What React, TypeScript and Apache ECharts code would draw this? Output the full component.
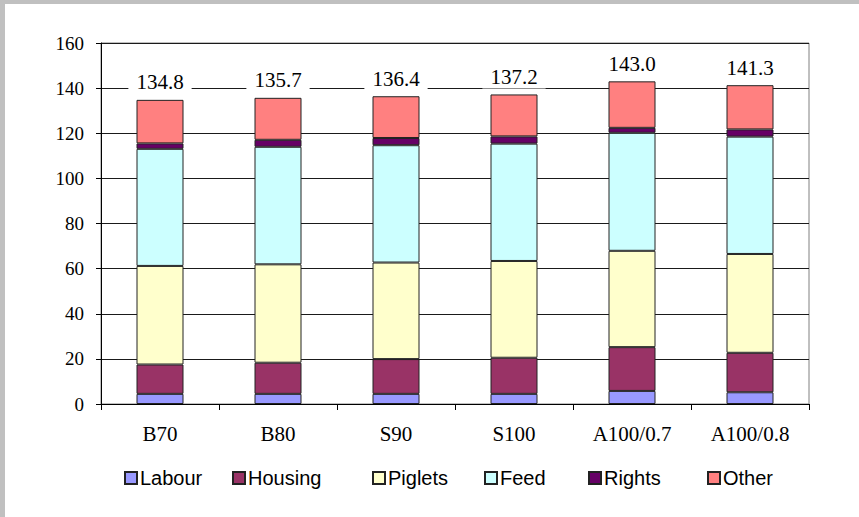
import React, { useEffect, useRef } from "react";
import * as echarts from "echarts";

const categories = ["B70", "B80", "S90", "S100", "A100/0.7", "A100/0.8"];
const labour = [4.5, 4.5, 4.5, 4.5, 5.8, 5.2];
const housing = [13.0, 13.8, 15.4, 16.0, 19.4, 17.5];
const piglets = [43.7, 43.6, 42.8, 42.9, 42.7, 43.8];
const feed = [51.9, 52.1, 52.0, 52.0, 52.3, 52.0];
const rights = [2.4, 3.1, 3.2, 3.2, 2.2, 3.2];
const other = [19.3, 18.6, 18.5, 18.6, 20.6, 19.6];
const totals = ["134.8", "135.7", "136.4", "137.2", "143.0", "141.3"];
const yTicks = [0, 20, 40, 60, 80, 100, 120, 140, 160];

const seriesNames = ["Labour", "Housing", "Piglets", "Feed", "Rights", "Other"];
const seriesData = [labour, housing, piglets, feed, rights, other];
const colors = ["#9999FF", "#993366", "#FFFFCC", "#CCFFFF", "#660066", "#FF8080"];
const legendLefts = [124, 232, 372, 484, 588, 707];

export default function App() {
  const ref = useRef<HTMLDivElement>(null);
  useEffect(() => {
    if (!ref.current) return;
    const chart = echarts.init(ref.current, null, { renderer: "svg" });
    const serif = "'Liberation Serif', 'Times New Roman', serif";
    const sans = "'Liberation Sans', Arial, sans-serif";
    const series: any[] = seriesNames.map((name, i) => ({
      name,
      type: "bar",
      stack: "total",
      barWidth: 47,
      data: seriesData[i],
      itemStyle: { color: colors[i], borderColor: "#222", borderWidth: 1 },
      label:
        i === seriesNames.length - 1
          ? {
              show: true,
              position: "top",
              distance: 6,
              formatter: (p: any) => totals[p.dataIndex],
              fontFamily: serif,
              fontSize: 21,
              color: "#000",
              backgroundColor: "#fff",
              padding: [1, 8, 1, 8],
            }
          : { show: false },
    }));
    chart.setOption({
      animation: false,
      backgroundColor: "#fff",
      grid: {
        left: 101,
        right: 50,
        top: 43,
        bottom: 113,
        show: true,
        borderColor: "#808080",
        borderWidth: 1,
        backgroundColor: "transparent",
      },
      legend: seriesNames.map((name, i) => ({
        data: [name],
        left: legendLefts[i],
        top: 468,
        padding: 0,
        icon: "rect",
        itemWidth: 12,
        itemHeight: 12,
        selectedMode: false,
        textStyle: { fontFamily: sans, fontSize: 20, color: "#000", padding: [0, 0, 0, -2] },
      })),
      xAxis: {
        type: "category",
        data: categories,
        axisLine: { show: true, lineStyle: { color: "#000", width: 1 } },
        axisTick: { show: true, length: 6, lineStyle: { color: "#000" } },
        axisLabel: { fontFamily: serif, fontSize: 21, color: "#000", margin: 19 },
      },
      yAxis: {
        type: "value",
        min: 0,
        max: 160,
        interval: 20,
        axisLine: { show: true, lineStyle: { color: "#000", width: 1 } },
        axisTick: { show: true, length: 5, lineStyle: { color: "#000" } },
        axisLabel: {
          fontFamily: serif,
          fontSize: 19,
          color: "#000",
          margin: 17,
          formatter: (v: number) => (yTicks.includes(v) ? String(v) : ""),
        },
        splitLine: { show: true, lineStyle: { color: "#1a1a1a", width: 1 } },
      },
      graphic: [
        { type: "rect", shape: { x: 0, y: 0, width: 859, height: 4 }, style: { fill: "#c0c0c0" }, silent: true },
        { type: "rect", shape: { x: 0, y: 0, width: 5, height: 517 }, style: { fill: "#c0c0c0" }, silent: true },
      ],
      series,
    });
    return () => chart.dispose();
  }, []);
  return (
    <div
      ref={ref}
      style={{ position: "fixed", left: 0, top: 0, width: 859, height: 517 }}
    />
  );
}
